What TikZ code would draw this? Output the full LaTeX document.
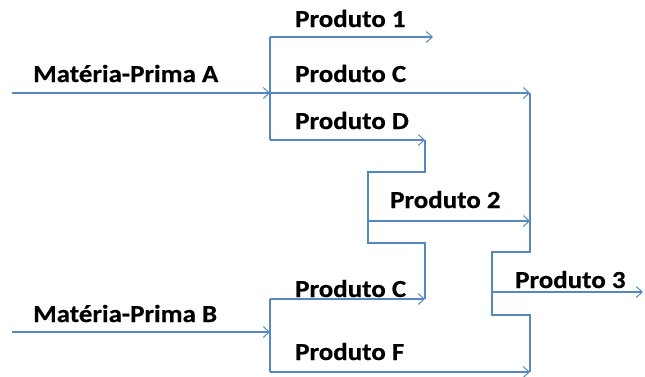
\documentclass[tikz,border=0pt]{standalone}
\usepackage{fontspec}
\newfontfamily\lbl{Carlito}[FakeStretch=1.1, BoldFeatures={FakeStretch=1.1, FakeBold=0.5}]
\usetikzlibrary{arrows.meta}
\definecolor{flow}{RGB}{85,135,195}
\tikzset{
  lab/.style={anchor=base west, inner sep=0pt, font=\lbl\bfseries\fontsize{24.5}{27}\selectfont},
  pipe/.style={draw=flow, line width=1.2pt},
  feed/.style={pipe, -{Straight Barb[length=6pt,width=11pt,line width=1pt]}},
}
\begin{document}
\begin{tikzpicture}[x=1pt,y=-1pt]
\useasboundingbox (0,0) rectangle (645,376);
% coordinates
\coordinate (inA) at (12,93);
\coordinate (jA) at (270,93);
\coordinate (jAtop) at (270,37);
\coordinate (jAbot) at (270,140);
\coordinate (p1) at (433,37);
\coordinate (pC) at (530,93);
\coordinate (pD) at (425,140);
\coordinate (d1) at (425,172);
\coordinate (d2) at (368,172);
\coordinate (d3) at (368,243);
\coordinate (d4) at (425,243);
\coordinate (pC2) at (425,299);
\coordinate (j2) at (368,221);
\coordinate (p2) at (530,221);
\coordinate (inB) at (12,332);
\coordinate (jB) at (270,332);
\coordinate (jBtop) at (270,299);
\coordinate (jBbot) at (270,372);
\coordinate (pF) at (530,372);
\coordinate (r1) at (530,252);
\coordinate (r2) at (492,252);
\coordinate (r3) at (492,315);
\coordinate (r4) at (530,315);
\coordinate (j3) at (492,292);
\coordinate (p3) at (643,292);
% labels
\node[lab] (tA) at (33,82) {Matéria-Prima A};
\node[lab] (t1) at (295,27) {Produto 1};
\node[lab] (tC) at (295,82) {Produto C};
\node[lab] (tD) at (295,129) {Produto D};
\node[lab] (t2) at (390,208) {Produto 2};
\node[lab] (tB) at (33,322) {Matéria-Prima B};
\node[lab] (tC2) at (295,297) {Produto C};
\node[lab] (tF) at (295,360) {Produto F};
\node[lab] (t3) at (515,288) {Produto 3};
% lines
\draw[feed] (inA) -- (jA);
\draw[pipe] (jAtop) -- (jAbot);
\draw[feed] (jAtop) -- (p1);
\draw[feed] (jA) -- (pC);
\draw[feed] (jAbot) -- (pD);
\draw[pipe] (pD) -- (d1) -- (d2) -- (d3) -- (d4) -- (pC2);
\draw[feed] (j2) -- (p2);
\draw[feed] (inB) -- (jB);
\draw[pipe] (jBtop) -- (jBbot);
\draw[feed] (jBtop) -- (pC2);
\draw[feed] (jBbot) -- (pF);
\draw[pipe] (pC) -- (r1) -- (r2) -- (r3) -- (r4) -- (pF);
\draw[feed] (j3) -- (p3);
\end{tikzpicture}
\end{document}
